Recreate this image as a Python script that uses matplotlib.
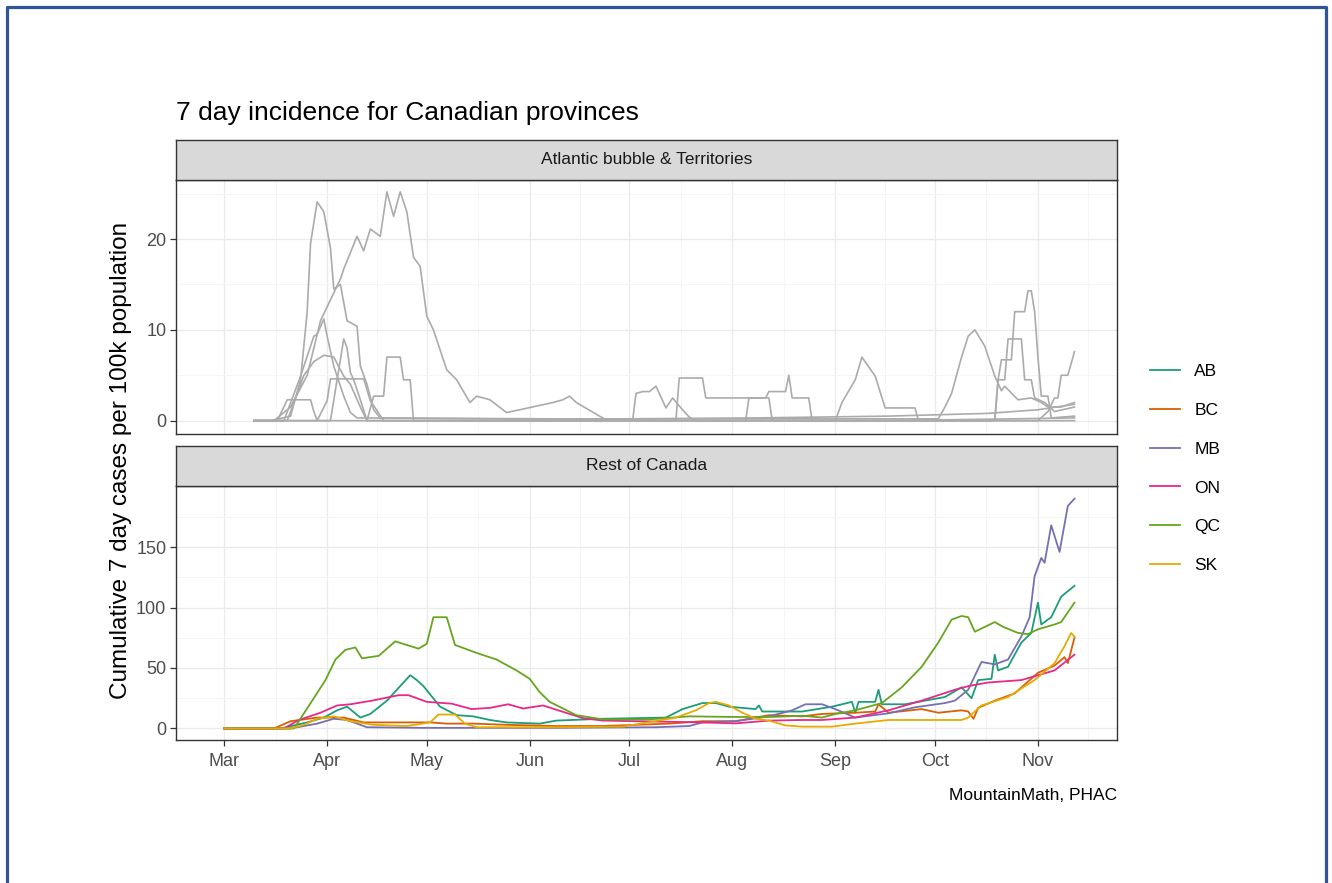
import matplotlib
matplotlib.use("Agg")
import matplotlib.pyplot as plt
import matplotlib.dates as mdates
import numpy as np
import pandas as pd
from matplotlib.lines import Line2D

plt.rcParams['font.family'] = ['Liberation Sans', 'DejaVu Sans']

# days since 2020-03-01, 7 day cases per 100k
# --- Rest of Canada ---
ab_days = [0, 17, 25, 30, 34, 37, 41, 44, 49, 53, 56, 58, 60, 65, 70, 75, 80, 85, 95, 100,
           114, 133, 138, 144, 148, 152, 160, 161, 162, 174, 183, 189, 190, 191, 196, 197, 198, 205, 217, 222,
           225, 227, 231, 232, 233, 236, 240, 243, 245, 246, 249, 252, 256]
ab_vals = [0, 0, 5, 9, 15, 18, 9, 12, 23, 35, 44, 40, 35, 18, 11, 10, 7, 5, 4, 6.5,
           8, 9, 16, 21, 21, 18, 16, 19, 14, 14, 18, 22, 13, 22, 22, 32, 20, 20, 26, 34,
           25, 40, 41, 61, 48, 51, 71, 79, 104, 86, 92, 109, 118]

bc_days = [0, 15, 20, 28, 36, 42, 50, 56, 62, 67, 75, 85, 100, 114, 134, 144, 154, 164, 174, 180,
           190, 196, 197, 200, 210, 215, 222, 224, 225.6, 227, 232, 238, 245, 250, 253, 254, 256]
bc_vals = [0, 0, 6, 9, 9, 5, 5, 5, 5, 4, 4, 3, 2, 2, 4, 6, 6, 11, 10, 12,
           13, 14, 20, 13, 16, 13, 15, 14, 8, 17, 23, 29, 46, 52, 59, 54, 75]

mb_days = [0, 20, 28, 33, 37, 43, 60, 100, 130, 140, 144, 154, 164, 171, 175, 180, 184, 190, 200, 208,
           217, 220, 224, 228, 232, 236, 240, 242.5, 244, 246, 247, 249, 251.5, 254, 256]
mb_vals = [0, 0, 4, 8, 7, 1, 0.5, 0.5, 1, 2, 5, 6, 10, 15, 20, 20, 16, 9, 12.5, 17.5,
           21, 23, 32, 55, 53, 57, 76, 92, 126, 141, 137, 168, 146, 184, 190]

on_days = [0, 18, 22.5, 29, 34, 38, 44.5, 52.5, 55.5, 61, 68.5, 74.5, 80, 85.5, 90, 96, 104, 108, 114, 144,
           154, 164, 174, 180, 190, 200, 210, 220, 224, 230, 240, 245, 250, 256]
on_vals = [0, 0, 7, 13, 19, 20, 23, 27.5, 27.5, 22, 20.5, 16, 17, 20, 16.5, 19, 12, 8.5, 6.5, 5,
           4.2, 6.5, 7, 7, 9, 15, 23, 32, 35, 38, 40, 44, 48, 61]

qc_days = [0, 21, 22, 26.5, 30.5, 33.5, 36.5, 39.5, 41.5, 46.5, 51.5, 58.5, 61, 63, 67, 69.5, 73.5, 76.5, 82, 86,
           88, 92, 95, 98, 106, 114, 128, 140, 154, 165, 174, 180, 184, 190, 198, 204, 210, 215, 219, 222,
           224, 226, 229, 232, 234.5, 239, 242, 245, 250, 252, 256]
qc_vals = [0, 0, 4, 23, 40, 57, 65, 67, 58, 60, 72, 66, 70, 92, 92, 69, 65, 62, 57, 51,
           48, 41, 30, 22, 11, 7.5, 7.5, 10, 9.5, 9.5, 10.5, 9, 12, 15, 21, 34, 51, 71, 90, 93,
           92, 80, 84, 88, 84, 79, 78, 82, 86, 88, 104]

sk_days = [0, 20, 24, 28, 33, 38, 45, 55, 62, 64.5, 69.5, 72.5, 76, 100, 120, 136, 142, 146, 148, 152,
           156, 160, 164, 169, 174, 183, 190, 200, 210, 222, 224, 228, 236, 244, 250, 253, 255, 256]
sk_vals = [0, 0, 3, 8, 10, 6, 3, 2, 5, 11.5, 11.5, 4, 1, 1, 1.5, 9, 15, 21, 22, 19,
           13, 8, 6.5, 2.5, 1.5, 1.5, 4, 7, 7, 7, 9, 19, 26, 40, 54, 68, 79, 76]

# --- Atlantic bubble & Territories (grey) ---
g1_days = [9, 14, 20, 23, 25, 26, 28, 30, 32, 33, 35, 37, 40, 41, 43, 45, 47, 80, 120, 160, 200, 230, 245, 256]
g1_vals = [0, 0, 0.5, 4.5, 12, 19.5, 24.1, 23, 19, 14.5, 15, 11, 10.4, 6, 4, 1.2, 0.3, 0.2, 0.2, 0.3, 0.5, 0.8, 1.2, 1.8]

g2_days = [9, 15, 20, 25, 29, 35, 36, 40, 42, 44, 47, 49, 51, 53, 55, 57, 59, 61, 63, 67, 70, 74, 76, 80,
           85, 89, 94, 99, 102, 104, 106, 113, 115, 123, 124, 126, 128, 130, 133, 135, 138, 140, 142, 200, 256]
g2_vals = [0, 0, 1.5, 5, 11, 15.6, 16.7, 20.3, 18.7, 21.1, 20.3, 25.2, 22.5, 25.2, 23, 18, 17, 11.5, 10, 5.6,
           4.5, 2, 2.7, 2.3, 0.9, 1.2, 1.6, 2, 2.3, 2.7, 2, 0.5, 0.1, 0.1, 3.0, 3.2, 3.2, 3.8, 1.4, 2.5,
           1.2, 0.4, 0, 0, 0.3]

g3_days = [9, 18, 23, 27, 28, 30, 31, 33, 36, 38, 40, 100, 215, 217, 219, 222, 224, 226, 229, 232,
           234, 235, 239, 243, 246, 248, 252, 256]
g3_vals = [0, 0, 4.9, 9.3, 9.5, 11.2, 9.3, 6, 2.7, 0.9, 0.3, 0.2, 0.2, 1.5, 3, 7, 9.3, 10, 8.2, 4.9,
           3.3, 3.8, 2.3, 2.5, 2, 1.5, 1.5, 2]

g4_days = [9, 16, 19, 26, 27, 28, 31, 32, 42, 44, 48, 184, 186, 190, 192, 196, 199, 208, 209, 256]
g4_vals = [0, 0, 2.3, 2.3, 1, 0, 2.2, 4.6, 4.6, 2.2, 0, 0, 2, 4.5, 7, 4.9, 1.4, 1.4, 0, 0]

g5_days = [9, 32, 34, 36, 37, 38, 39, 41, 43, 136, 137, 144, 145, 164, 165, 245, 248, 250, 251, 252, 254, 256]
g5_vals = [0, 0, 4.5, 9, 8, 5.3, 4.5, 2.3, 0, 0, 4.7, 4.7, 2.5, 2.5, 0, 0, 1, 2.5, 2.5, 5, 5, 7.6]

g6_days = [9, 19, 24, 27, 30, 33, 36, 38, 41, 43, 157, 158, 163, 164, 169, 170, 171, 176, 177, 232,
           233, 235, 236, 240, 241, 243, 244, 247, 250, 256]
g6_vals = [0, 0, 5, 6.5, 7.2, 7, 4.9, 4, 1.5, 0, 0, 2.5, 2.5, 3.2, 3.2, 5, 2.5, 2.5, 0, 0,
           4.5, 4.5, 9, 9, 4.5, 4.5, 2.5, 2, 1, 1.5]

g7_days = [9, 43, 45, 48, 49, 53, 54, 56, 57, 232, 233, 234, 237, 238, 241, 242, 243, 244, 245, 246, 248, 249, 256]
g7_vals = [0, 0, 2.7, 2.7, 7, 7, 4.5, 4.5, 0, 0, 4.5, 6.7, 6.7, 12, 12, 14.3, 14.3, 12, 7, 2.7, 2.7, 0.3, 0.5]

provinces = ["AB", "BC", "MB", "ON", "QC", "SK"]
colors = ["#1B9E77", "#D95F02", "#7570B3", "#E7298A", "#66A61E", "#E6AB02"]
month_labels = ["Mar", "Apr", "May", "Jun", "Jul", "Aug", "Sep", "Oct", "Nov"]

start = pd.Timestamp("2020-03-01")


def to_dates(days):
    return start + pd.to_timedelta(np.array(days, dtype=float), unit="D")


W, H = 1332, 883
fig = plt.figure(figsize=(W / 100, H / 100), dpi=100)


def box(l, t, r, b):
    return [l / W, 1 - b / H, (r - l) / W, (b - t) / H]


ax1 = fig.add_axes(box(176, 180, 1117, 434))
ax2 = fig.add_axes(box(176, 486, 1117, 740))
s1 = fig.add_axes(box(176, 140, 1117, 180))
s2 = fig.add_axes(box(176, 446, 1117, 486))

xmin = mdates.date2num(start - pd.Timedelta(days=12.8))
xmax = mdates.date2num(start + pd.Timedelta(days=268.8))
majors = mdates.date2num(pd.date_range("2020-02-01", "2020-12-01", freq="MS"))
minors = (majors[:-1] + majors[1:]) / 2
majors = majors[1:-1]


def style_panel(ax, yt, ymin_, ylim, show_x):
    ax.set_xlim(xmin, xmax)
    ax.set_ylim(ylim)
    ax.set_xticks(majors)
    ax.set_xticks(minors, minor=True)
    ax.set_xticklabels(month_labels)
    ax.set_yticks(yt)
    ax.set_yticks(ymin_, minor=True)
    ax.grid(which='major', color='#EBEBEB', lw=1.0)
    ax.grid(which='minor', color='#F4F4F4', lw=0.6)
    ax.set_axisbelow(True)
    for s in ax.spines.values():
        s.set_color('#333333')
        s.set_linewidth(1.0)
    ax.tick_params(which='minor', length=0)
    ax.tick_params(which='major', length=4, width=0.9, color='#333333',
                   labelsize=13, labelcolor='#4D4D4D', pad=3)
    if not show_x:
        ax.tick_params(axis='x', which='both', length=0, labelbottom=False)


grey_sets = [(g1_days, g1_vals), (g2_days, g2_vals), (g3_days, g3_vals), (g4_days, g4_vals),
             (g5_days, g5_vals), (g6_days, g6_vals), (g7_days, g7_vals)]
for d, v in grey_sets:
    ax1.plot(to_dates(d), v, color='#ABABAB', lw=1.2)

prov_sets = [(ab_days, ab_vals), (bc_days, bc_vals), (mb_days, mb_vals),
             (on_days, on_vals), (qc_days, qc_vals), (sk_days, sk_vals)]
handles = []
for (d, v), name, c in zip(prov_sets, provinces, colors):
    ln, = ax2.plot(to_dates(d), v, color=c, lw=1.3, label=name)
    handles.append(ln)

style_panel(ax1, [0, 10, 20], [5, 15, 25], (-1.47, 26.5), False)
style_panel(ax2, [0, 50, 100, 150], [25, 75, 125, 175], (-9.55, 200.5), True)
ax2.tick_params(axis='x', pad=5)

for s, label in [(s1, "Atlantic bubble & Territories"), (s2, "Rest of Canada")]:
    s.set_facecolor('#D9D9D9')
    s.set_xticks([])
    s.set_yticks([])
    for sp in s.spines.values():
        sp.set_color('#333333')
        sp.set_linewidth(1.0)
    s.text(0.5, 0.5, label, ha='center', va='center', fontsize=12.5, color='#1A1A1A',
           transform=s.transAxes)

fig.text(176 / W, 1 - 113 / H, "7 day incidence for Canadian provinces",
         fontsize=19, ha='left', va='center', color='black')
fig.text(121 / W, 1 - 460 / H, "Cumulative 7 day cases per 100k population",
         fontsize=17.5, rotation=90, ha='center', va='center', color='black')
fig.text(1117 / W, 1 - 795 / H, "MountainMath, PHAC",
         fontsize=12.5, ha='right', va='center', color='black')

fig.legend(handles=handles, labels=provinces, loc='center left',
           bbox_to_anchor=(1150 / W, 1 - 468.5 / H), frameon=False, fontsize=12.5,
           handlelength=1.75, handletextpad=0.8, labelspacing=1.37,
           borderpad=0, borderaxespad=0)

# blue outer frame
fx = np.array([6.5, 6.5, 1326, 1326]) / W
fy = 1 - np.array([900, 6.5, 6.5, 900]) / H
fig.add_artist(Line2D(fx, fy, transform=fig.transFigure, color='#2F5597', lw=2.3))

fig.savefig("out.png", dpi=100)
